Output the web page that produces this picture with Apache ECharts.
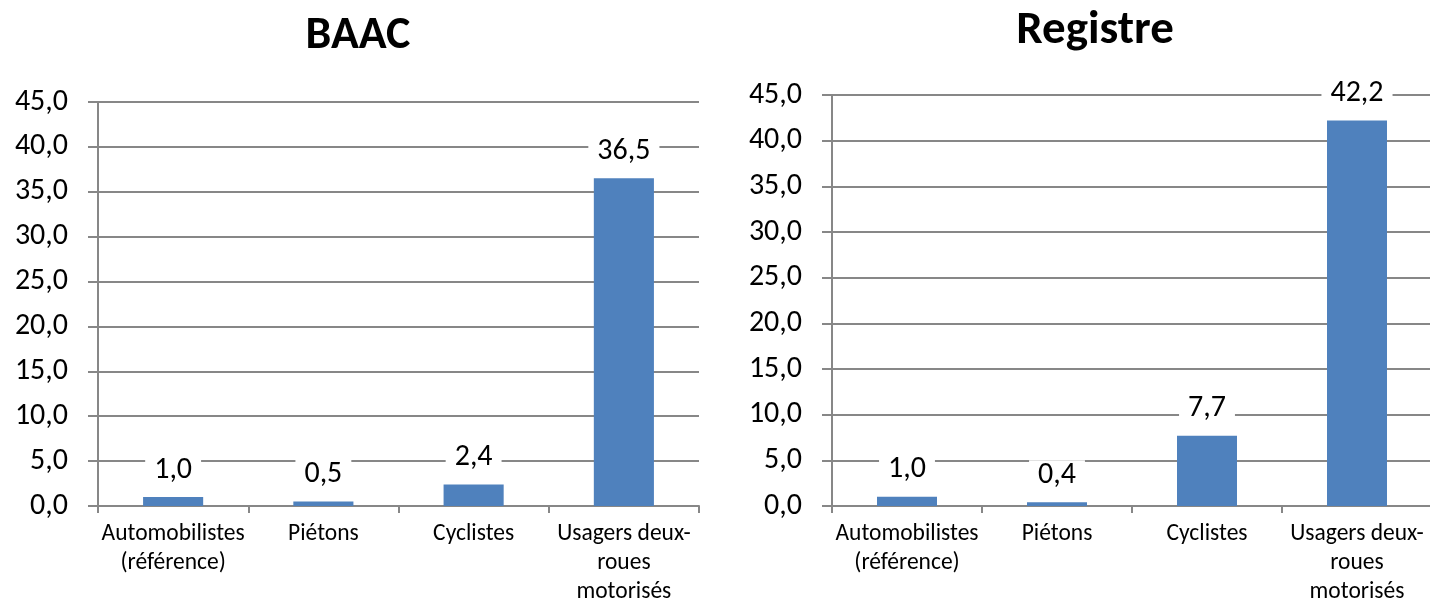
<!DOCTYPE html>
<html>
<head>
<meta charset="utf-8">
<script src="https://cdn.jsdelivr.net/npm/echarts@6/dist/echarts.min.js"></script>
<style>
html,body{margin:0;padding:0;background:#fff;}
#c{width:1430px;height:604px;}
</style>
</head>
<body>
<div id="c"></div>
<script>
var categories = ['Automobilistes\n(référence)', 'Piétons', 'Cyclistes', 'Usagers deux-\nroues\nmotorisés'];
var titles = ['BAAC', 'Registre'];
var baacValues = [1.0, 0.5, 2.4, 36.5];
var registreValues = [1.0, 0.4, 7.7, 42.2];
var yTicks = {min: 0, max: 45, interval: 5};

var FONT = 'Carlito, Lato, sans-serif';
var GRAY = '#878787';
var BAR = '#4F81BD';

function fmt(v){ return Number(v).toFixed(1).replace('.', ','); }

var grids = [
  {left: 98, top: 102, width: 601, height: 404, outerBoundsMode: 'none', containLabel: false},
  {left: 832, top: 95, width: 600, height: 411, outerBoundsMode: 'none', containLabel: false}
];

function xAxis(i){
  return {
    type: 'category', gridIndex: i, data: categories,
    axisLine: {show: true, lineStyle: {color: GRAY, width: 2}},
    axisTick: {show: true, length: 7, lineStyle: {color: GRAY, width: 2}},
    axisLabel: {color: '#000', fontFamily: FONT, fontSize: 23.5, lineHeight: 29, margin: 14, interval: 0}
  };
}
function yAxis(i){
  return {
    type: 'value', gridIndex: i, min: yTicks.min, max: yTicks.max, interval: yTicks.interval,
    axisLine: {show: true, lineStyle: {color: GRAY, width: 2}},
    axisTick: {show: true, length: 10, lineStyle: {color: GRAY, width: 2}},
    splitLine: {show: true, lineStyle: {color: GRAY, width: 2}},
    axisLabel: {color: '#000', fontFamily: FONT, fontSize: 30, margin: 30, formatter: fmt}
  };
}
function series(i, data){
  return {
    type: 'bar', xAxisIndex: i, yAxisIndex: i, data: data, barWidth: '40%',
    itemStyle: {color: BAR},
    label: {show: true, position: 'top', distance: 12, formatter: function(p){ return fmt(p.value); },
      color: '#000', fontFamily: FONT, fontSize: 30, backgroundColor: '#fff', padding: [0, 9]},
    animation: false
  };
}

var chart = echarts.init(document.getElementById('c'), null, {renderer: 'canvas'});
chart.setOption({
  animation: false,
  backgroundColor: '#fff',
  title: [
    {text: titles[0], left: 353, top: 8, textAlign: 'center', textStyle: {fontFamily: FONT, fontSize: 46, fontWeight: 'bold', color: '#000'}},
    {text: titles[1], left: 1090, top: 3, textAlign: 'center', textStyle: {fontFamily: FONT, fontSize: 47, fontWeight: 'bold', color: '#000'}}
  ],
  grid: grids,
  xAxis: [xAxis(0), xAxis(1)],
  yAxis: [yAxis(0), yAxis(1)],
  series: [series(0, baacValues), series(1, registreValues)]
});
</script>
</body>
</html>
